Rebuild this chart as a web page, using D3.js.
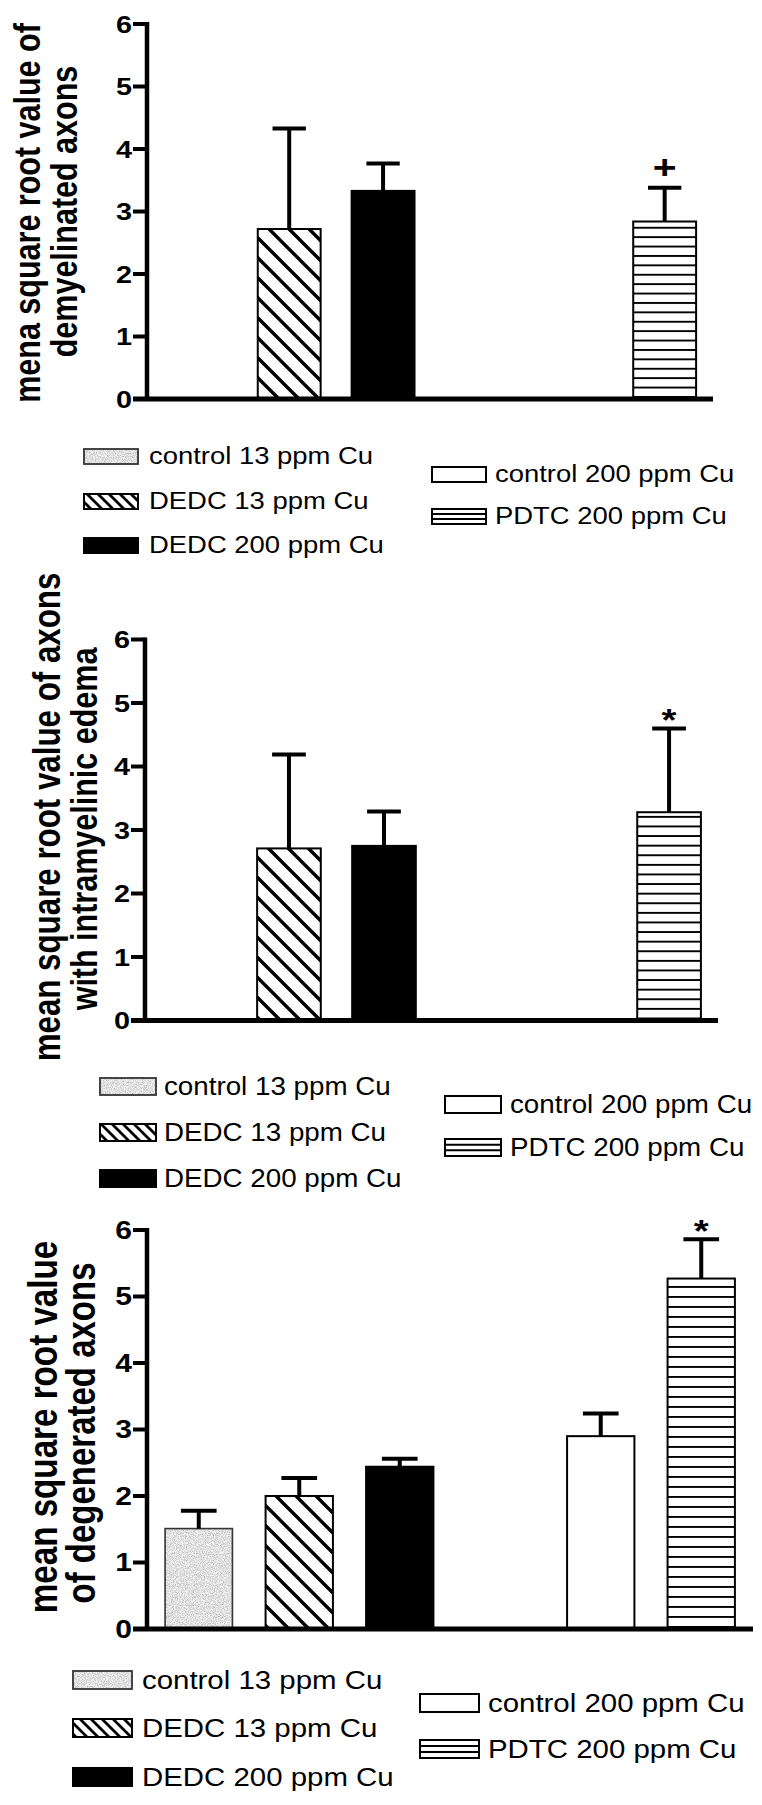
<!DOCTYPE html>
<html><head><meta charset="utf-8">
<script src="https://cdn.jsdelivr.net/npm/d3@7"></script>
<style>html,body{margin:0;padding:0;background:#fff;} svg{display:block;}</style>
</head><body>
<svg id="chart" width="762" height="1805"></svg>
<script>
// ---- data ----
const categories = ["control 13 ppm Cu", "DEDC 13 ppm Cu", "DEDC 200 ppm Cu", "control 200 ppm Cu", "PDTC 200 ppm Cu"];
const yTicks = [0, 1, 2, 3, 4, 5, 6];

const demyelinatedMeans  = [null, 2.72, 3.33, null, 2.84];
const demyelinatedErrors = [null, 1.61, 0.44, null, 0.54];
const demyelinatedMarks  = ["", "", "", "", "+"];

const edemaMeans  = [null, 2.71, 2.75, null, 3.28];
const edemaErrors = [null, 1.48, 0.54, null, 1.32];
const edemaMarks  = ["", "", "", "", "*"];

const degeneratedMeans  = [1.51, 2.00, 2.44, 2.90, 5.27];
const degeneratedErrors = [0.27, 0.27, 0.12, 0.34, 0.59];
const degeneratedMarks  = ["", "", "", "", "*"];

const titles = [
  ["mena square root value of", "demyelinated axons"],
  ["mean square root value of axons", "with intramyelinic edema"],
  ["mean square root value", "of degenerated axons"]
];

// ---- layout / style ----
const FONT = "'Liberation Sans', Arial, Helvetica, sans-serif";
const fillKinds = ["stipple", "diag", "black", "white", "hlines"];
const panels = [
  {means: demyelinatedMeans, errors: demyelinatedErrors, marks: demyelinatedMarks, title: titles[0],
   axisX: 147, xEnd: 713, yBase: 399, yTop: 24, titleX: [40, 77], titleSize: [30.5, 30.5], titleCY: [213, 211.5], tickSize: 24, hPeriod: 9.4,
   legend: {size: 24.5, sx: 1.12, swX: 84, swW: 54, swH: 15, txtX: 149, left: [464, 509, 553], rX: 432, rTxtX: 495, right: [482, 524]}},
  {means: edemaMeans, errors: edemaErrors, marks: edemaMarks, title: titles[1],
   axisX: 145, xEnd: 718, yBase: 1020.5, yTop: 639.5, titleX: [60, 97], titleSize: [31.3, 30.5], titleCY: [817, 829], tickSize: 24, hPeriod: 9.6,
   legend: {size: 25, sx: 1.11, swX: 100, swW: 56, swH: 17, txtX: 164, left: [1095, 1141, 1187], rX: 445, rTxtX: 510, right: [1113, 1156]}},
  {means: degeneratedMeans, errors: degeneratedErrors, marks: degeneratedMarks, title: titles[2],
   axisX: 147, xEnd: 753, yBase: 1629, yTop: 1230, titleX: [57, 95], titleSize: [33.2, 33], titleCY: [1427, 1433], tickSize: 25, hPeriod: 10,
   legend: {size: 26.5, sx: 1.11, swX: 73, swW: 59, swH: 18, txtX: 142, left: [1689, 1737, 1786], rX: 420, rTxtX: 488, right: [1712, 1758]}}
];

const svg = d3.select("#chart");
const defs = svg.append("defs");

// stipple filter for grey control bar
const f = defs.append("filter").attr("id", "stipple").attr("x", "0%").attr("y", "0%").attr("width", "100%").attr("height", "100%");
f.append("feTurbulence").attr("type", "fractalNoise").attr("baseFrequency", 1.1).attr("numOctaves", 2).attr("seed", 7).attr("result", "noise");
f.append("feColorMatrix").attr("in", "noise").attr("type", "matrix")
  .attr("values", "0.9 0 0 0 0.3  0.9 0 0 0 0.3  0.9 0 0 0 0.3  0 0 0 0 1").attr("result", "grey");
f.append("feComposite").attr("in", "grey").attr("in2", "SourceGraphic").attr("operator", "in");

function diagPattern(id, period, sw) {
  const p = defs.append("pattern").attr("id", id).attr("patternUnits", "userSpaceOnUse")
    .attr("width", period).attr("height", period);
  p.append("rect").attr("width", period).attr("height", period).attr("fill", "#fff");
  p.append("path").attr("d", `M${-period},0 L${period},${2*period} M0,${-period} L${2*period},${period} M${-period},${-period} L${2*period},${2*period}`)
    .attr("stroke", "#000").attr("stroke-width", sw).attr("fill", "none");
}
diagPattern("diag", 20, 3.4);
diagPattern("diagLeg", 11, 2.8);

panels.forEach((P, k) => {
  const p = defs.append("pattern").attr("id", "hlines" + k).attr("patternUnits", "userSpaceOnUse")
    .attr("width", 10).attr("height", P.hPeriod)
    .attr("patternTransform", `translate(0,${P.yBase - 3})`);
  p.append("rect").attr("width", 10).attr("height", P.hPeriod).attr("fill", "#fff");
  p.append("rect").attr("y", 0).attr("width", 10).attr("height", 1.9).attr("fill", "#000");
});

function fillFor(kind, k, legend) {
  if (kind === "diag") return legend ? "url(#diagLeg)" : "url(#diag)";
  if (kind === "black") return "#000";
  if (kind === "white") return "#fff";
  if (kind === "hlines") return "url(#hlines" + k + ")";
  return "#c4c4c4";
}

panels.forEach((P, k) => {
  const g = svg.append("g");
  const slotDomain = [categories[0], categories[1], categories[2], "", categories[3], categories[4]];
  const x = d3.scaleBand().domain(slotDomain).range([P.axisX, P.xEnd]).paddingInner(0.33).paddingOuter(0.18);
  const y = d3.scaleLinear().domain([0, 6]).range([P.yBase, P.yTop]);

  // bars
  categories.forEach((c, i) => {
    const v = P.means[i];
    if (v == null) return;
    const x0 = x(c), w = x.bandwidth(), yt = y(v), h = P.yBase - yt;
    const kind = fillKinds[i];
    if (kind === "stipple") {
      g.append("rect").attr("x", x0).attr("y", yt).attr("width", w).attr("height", h)
        .attr("fill", "#c4c4c4").attr("filter", "url(#stipple)");
      g.append("rect").attr("x", x0).attr("y", yt).attr("width", w).attr("height", h)
        .attr("fill", "none").attr("stroke", "#333").attr("stroke-width", 1.6);
    } else {
      g.append("rect").attr("x", x0).attr("y", yt).attr("width", w).attr("height", h)
        .attr("fill", fillFor(kind, k, false)).attr("stroke", "#000").attr("stroke-width", 2);
    }
    // error bar (upper)
    const e = P.errors[i];
    const cx = x0 + w / 2, ye = y(v + e), capW = w * 0.53;
    g.append("line").attr("x1", cx).attr("x2", cx).attr("y1", yt).attr("y2", ye)
      .attr("stroke", "#000").attr("stroke-width", 4);
    g.append("line").attr("x1", cx - capW / 2).attr("x2", cx + capW / 2).attr("y1", ye).attr("y2", ye)
      .attr("stroke", "#000").attr("stroke-width", 4);
    // significance mark
    const m = P.marks[i];
    if (m) {
      const size = m === "+" ? 34 : 32;
      const centerY = ye - (m === "+" ? 20 : 16);
      const base = centerY + (m === "+" ? 0.33 : 0.57) * size;
      g.append("text").text(m).attr("transform", `translate(${cx},${base}) scale(1.2,1)`)
        .attr("text-anchor", "middle").attr("font-family", FONT).attr("font-weight", "bold")
        .attr("font-size", size).attr("fill", "#000");
    }
  });

  // axes
  const tickLen = 14;
  g.append("line").attr("x1", P.axisX).attr("x2", P.axisX).attr("y1", y(6) - 2).attr("y2", P.yBase)
    .attr("stroke", "#000").attr("stroke-width", 4.5);
  g.append("line").attr("x1", P.axisX - tickLen).attr("x2", P.xEnd).attr("y1", P.yBase).attr("y2", P.yBase)
    .attr("stroke", "#000").attr("stroke-width", 5);
  yTicks.forEach(t => {
    g.append("line").attr("x1", P.axisX - tickLen).attr("x2", P.axisX).attr("y1", y(t)).attr("y2", y(t))
      .attr("stroke", "#000").attr("stroke-width", 4);
    g.append("text").text(t)
      .attr("transform", `translate(${P.axisX - tickLen - 1},${y(t) + 0.355 * P.tickSize}) scale(1.2,1)`)
      .attr("text-anchor", "end").attr("font-family", FONT).attr("font-weight", "bold")
      .attr("font-size", P.tickSize).attr("fill", "#000");
  });

  // y title (two rotated lines)
  P.title.forEach((line, j) => {
    g.append("text").text(line)
      .attr("transform", `translate(${P.titleX[j]},${P.titleCY[j]}) scale(1.22,1) rotate(-90)`)
      .attr("text-anchor", "middle").attr("font-family", FONT).attr("font-weight", "bold")
      .attr("font-size", P.titleSize[j]).attr("fill", "#000");
  });

  // legend
  const L = P.legend;
  const entries = [
    {i: 0, sx: L.swX, tx: L.txtX, base: L.left[0]},
    {i: 1, sx: L.swX, tx: L.txtX, base: L.left[1]},
    {i: 2, sx: L.swX, tx: L.txtX, base: L.left[2]},
    {i: 3, sx: L.rX, tx: L.rTxtX, base: L.right[0]},
    {i: 4, sx: L.rX, tx: L.rTxtX, base: L.right[1]}
  ];
  entries.forEach(en => {
    const kind = fillKinds[en.i];
    const top = en.base - L.swH;
    if (kind === "stipple") {
      g.append("rect").attr("x", en.sx).attr("y", top).attr("width", L.swW).attr("height", L.swH)
        .attr("fill", "#c4c4c4").attr("filter", "url(#stipple)");
      g.append("rect").attr("x", en.sx).attr("y", top).attr("width", L.swW).attr("height", L.swH)
        .attr("fill", "none").attr("stroke", "#333").attr("stroke-width", 1.8);
    } else if (kind === "hlines") {
      g.append("rect").attr("x", en.sx).attr("y", top).attr("width", L.swW).attr("height", L.swH)
        .attr("fill", "#fff").attr("stroke", "#000").attr("stroke-width", 2);
      [1, 2].forEach(q => {
        const yy = top + q * L.swH / 3;
        g.append("line").attr("x1", en.sx).attr("x2", en.sx + L.swW).attr("y1", yy).attr("y2", yy)
          .attr("stroke", "#000").attr("stroke-width", 2);
      });
    } else {
      g.append("rect").attr("x", en.sx).attr("y", top).attr("width", L.swW).attr("height", L.swH)
        .attr("fill", fillFor(kind, k, true)).attr("stroke", "#000").attr("stroke-width", 2);
    }
    g.append("text").text(categories[en.i])
      .attr("transform", `translate(${en.tx},${en.base}) scale(${L.sx},1)`)
      .attr("font-family", FONT).attr("font-size", L.size).attr("fill", "#000");
  });
});
</script>
</body></html>
